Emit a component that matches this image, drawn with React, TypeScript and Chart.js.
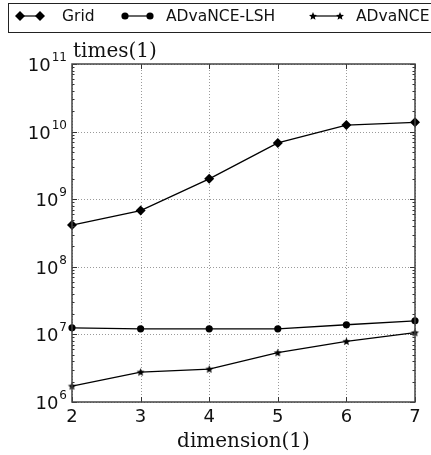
import React, { useEffect, useRef } from "react";
import { Chart, registerables } from "chart.js";

Chart.register(...registerables);

const dims = [2, 3, 4, 5, 6, 7];
const gridTimes = [4.15e8, 6.8e8, 2.0e9, 6.8e9, 1.25e10, 1.37e10];
const lshTimes = [1.25e7, 1.21e7, 1.21e7, 1.21e7, 1.39e7, 1.59e7];
const advanceTimes = [1.72e6, 2.77e6, 3.07e6, 5.37e6, 7.9e6, 1.06e7];
const yDecades = [6, 7, 8, 9, 10, 11];
const seriesNames = ["Grid", "ADvaNCE-LSH", "ADvaNCE"];
const yTitle = "times(1)";
const xTitle = "dimension(1)";

const SANS = '"DejaVu Sans", sans-serif';
const SERIF = '"DejaVu Serif", serif';

function starPath(ctx: CanvasRenderingContext2D, cx: number, cy: number, r: number) {
  const inner = r * 0.45;
  ctx.beginPath();
  for (let i = 0; i < 10; i++) {
    const rad = i % 2 === 0 ? r : inner;
    const a = -Math.PI / 2 + (i * Math.PI) / 5;
    const px = cx + rad * Math.cos(a);
    const py = cy + rad * Math.sin(a);
    if (i === 0) ctx.moveTo(px, py);
    else ctx.lineTo(px, py);
  }
  ctx.closePath();
}

function makeStar(): HTMLCanvasElement {
  const c = document.createElement("canvas");
  c.width = 11;
  c.height = 11;
  const ctx = c.getContext("2d")!;
  ctx.fillStyle = "#000";
  starPath(ctx, 5.5, 5.8, 4.2);
  ctx.fill();
  return c;
}

function drawMarker(ctx: CanvasRenderingContext2D, kind: number, x: number, y: number) {
  ctx.fillStyle = "#000";
  if (kind === 0) {
    const r = 5;
    ctx.beginPath();
    ctx.moveTo(x - r, y);
    ctx.lineTo(x, y - r);
    ctx.lineTo(x + r, y);
    ctx.lineTo(x, y + r);
    ctx.closePath();
    ctx.fill();
  } else if (kind === 1) {
    ctx.beginPath();
    ctx.arc(x, y, 3.6, 0, Math.PI * 2);
    ctx.fill();
  } else {
    starPath(ctx, x, y + 0.3, 4.2);
    ctx.fill();
  }
}

const decorPlugin = {
  id: "decor",
  beforeDatasetsDraw(chart: any) {
    const { ctx, chartArea, scales } = chart;
    const { left, right, top, bottom } = chartArea;
    ctx.save();
    ctx.strokeStyle = "#9a9a9a";
    ctx.lineWidth = 1;
    ctx.setLineDash([1, 2]);
    for (const d of dims) {
      const x = Math.round(scales.x.getPixelForValue(d)) + 0.5;
      ctx.beginPath();
      ctx.moveTo(x, top);
      ctx.lineTo(x, bottom);
      ctx.stroke();
    }
    for (const e of yDecades) {
      const y = Math.round(scales.y.getPixelForValue(Math.pow(10, e))) + 0.5;
      ctx.beginPath();
      ctx.moveTo(left, y);
      ctx.lineTo(right, y);
      ctx.stroke();
    }
    ctx.restore();
  },
  afterDraw(chart: any) {
    const { ctx, chartArea, scales } = chart;
    const { left, right, top, bottom } = chartArea;
    ctx.save();
    ctx.setLineDash([]);
    // ticks
    ctx.strokeStyle = "#333";
    ctx.lineWidth = 1;
    for (const d of dims) {
      const x = Math.round(scales.x.getPixelForValue(d)) + 0.5;
      ctx.beginPath();
      ctx.moveTo(x, bottom);
      ctx.lineTo(x, bottom - 5);
      ctx.moveTo(x, top);
      ctx.lineTo(x, top + 5);
      ctx.stroke();
    }
    for (let e = yDecades[0]; e < yDecades[yDecades.length - 1] + 1; e++) {
      for (let m = 1; m <= 9; m++) {
        const v = m * Math.pow(10, e);
        if (v > Math.pow(10, yDecades[yDecades.length - 1])) continue;
        const y = Math.round(scales.y.getPixelForValue(v)) + 0.5;
        const len = m === 1 ? 5 : 2.5;
        ctx.beginPath();
        ctx.moveTo(left, y);
        ctx.lineTo(left + len, y);
        ctx.moveTo(right, y);
        ctx.lineTo(right - len, y);
        ctx.stroke();
      }
    }
    // frame
    ctx.strokeStyle = "#444";
    ctx.lineWidth = 1.5;
    ctx.strokeRect(left, top, right - left, bottom - top);

    // x tick labels
    ctx.fillStyle = "#111";
    ctx.font = `18px ${SANS}`;
    ctx.textAlign = "center";
    ctx.textBaseline = "alphabetic";
    for (const d of dims) {
      const x = scales.x.getPixelForValue(d);
      ctx.fillText(String(d), x, bottom + 20);
    }
    // y tick labels
    for (const e of yDecades) {
      const y = scales.y.getPixelForValue(Math.pow(10, e));
      ctx.textAlign = "right";
      ctx.font = `12px ${SANS}`;
      const sup = String(e);
      ctx.fillText(sup, left - 5, y - 3);
      const w = ctx.measureText(sup).width;
      ctx.font = `18px ${SANS}`;
      ctx.fillText("10", left - 5 - w - 1, y + 7);
    }
    // titles
    ctx.font = `20px ${SERIF}`;
    ctx.textAlign = "left";
    ctx.fillText(yTitle, left + 1, top - 7);
    ctx.textAlign = "center";
    ctx.fillText(xTitle, (left + right) / 2, bottom + 45);

    // legend
    ctx.strokeStyle = "#222";
    ctx.lineWidth = 1;
    ctx.strokeRect(8.5, 3.5, 440, 29);
    const items = [
      { x0: 20, x1: 40, tx: 62 },
      { x0: 125, x1: 150, tx: 166 },
      { x0: 313, x1: 340, tx: 356 },
    ];
    const ly = 16;
    ctx.font = `15.5px ${SANS}`;
    ctx.textAlign = "left";
    ctx.textBaseline = "middle";
    items.forEach((it, i) => {
      ctx.strokeStyle = "#000";
      ctx.lineWidth = 1.2;
      ctx.beginPath();
      ctx.moveTo(it.x0, ly);
      ctx.lineTo(it.x1, ly);
      ctx.stroke();
      drawMarker(ctx, i, it.x0, ly);
      drawMarker(ctx, i, it.x1, ly);
      ctx.fillStyle = "#111";
      ctx.fillText(seriesNames[i], it.tx, ly + 1);
    });
    ctx.restore();
  },
};

export default function App() {
  const ref = useRef<HTMLCanvasElement>(null);
  useEffect(() => {
    if (!ref.current) return;
    const star = makeStar();
    const mk = (vals: number[]) => dims.map((d, i) => ({ x: d, y: vals[i] }));
    const common = {
      borderColor: "#000",
      backgroundColor: "#000",
      pointBackgroundColor: "#000",
      pointBorderColor: "#000",
      borderWidth: 1.3,
      pointBorderWidth: 0,
      tension: 0,
      fill: false,
    };
    const chart = new Chart(ref.current, {
      type: "line",
      data: {
        datasets: [
          { ...common, label: seriesNames[0], data: mk(gridTimes), pointStyle: "rectRot", pointRadius: 5 },
          { ...common, label: seriesNames[1], data: mk(lshTimes), pointStyle: "circle", pointRadius: 3.6 },
          { ...common, label: seriesNames[2], data: mk(advanceTimes), pointStyle: star as any, pointRadius: 4 },
        ],
      },
      options: {
        animation: false,
        responsive: false,
        maintainAspectRatio: false,
        devicePixelRatio: 1,
        layout: { padding: { left: 72, right: 16, top: 64, bottom: 53 } },
        plugins: { legend: { display: false }, tooltip: { enabled: false } },
        scales: {
          x: {
            type: "linear",
            min: 2,
            max: 7,
            ticks: { display: false },
            grid: { display: false, drawTicks: false },
            border: { display: false },
            afterFit: (s: any) => { s.height = 0; },
          },
          y: {
            type: "logarithmic",
            min: 1e6,
            max: 1e11,
            ticks: { display: false },
            grid: { display: false, drawTicks: false },
            border: { display: false },
            afterFit: (s: any) => { s.width = 0; },
          },
        },
        clip: false as any,
      },
      plugins: [decorPlugin],
    });
    return () => chart.destroy();
  }, []);
  return (
    <div style={{ position: "absolute", left: 0, top: 0, width: 431, height: 455, background: "#fff" }}>
      <canvas ref={ref} width={431} height={455} style={{ display: "block", width: 431, height: 455 }} />
    </div>
  );
}
